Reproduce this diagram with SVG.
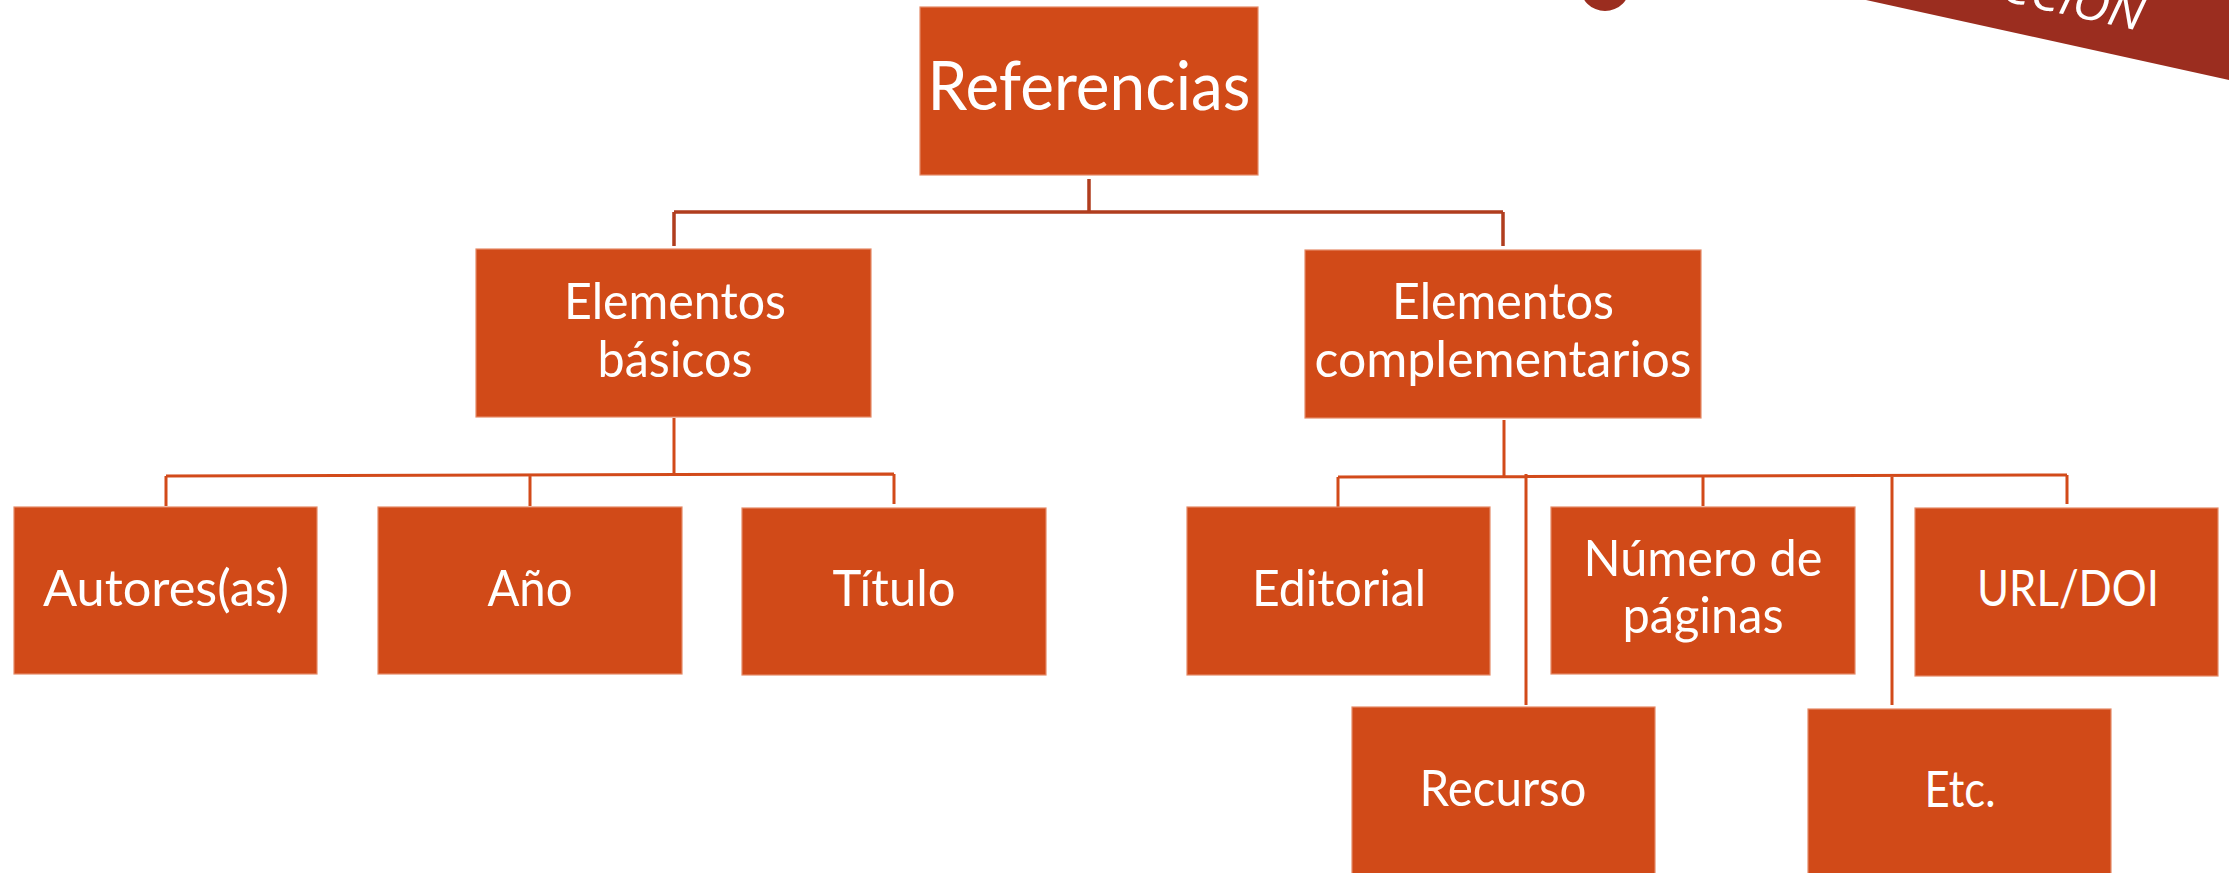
<svg xmlns="http://www.w3.org/2000/svg" width="2229" height="873" viewBox="0 0 2229 873">
<style>
.box{fill:#D14A18;stroke:#E58A68;stroke-width:1.2}
.t{fill:#FFFFFF;font-family:Lato,"Liberation Sans",sans-serif;text-anchor:middle}
.c{fill:none;stroke:#D24A1A;stroke-width:3}
.c0{fill:none;stroke:#B03D1E;stroke-width:3.5}
</style>
<rect width="2229" height="873" fill="#FFFFFF"/>
<g id="decoration">
<circle cx="1605" cy="-14" r="25" fill="#9B2D1F"/>
<polygon points="1866,0 2229,0 2229,80" fill="#9B2D1F"/>
<text x="2140" y="31" transform="rotate(12.4 2140 31)" fill="#FFFFFF" font-family="'Open Sans','Liberation Sans',sans-serif" font-style="italic" font-size="47" text-anchor="end" textLength="144" lengthAdjust="spacingAndGlyphs">CCIÓN</text>
</g>
<g id="connectors">
<path class="c0" d="M1089 179 V212 M674 212 H1503 M674 212 V246 M1503 212 V246"/>
<path class="c" d="M674 418 V475 M166 476 L894 474 M166 476 V506 M530 475 V506 M894 474 V504"/>
<path class="c" d="M1504 420 V476 M1338 477 L2067 475 M1338 477 V507 M1703 476 V506 M2067 475 V504 M1526 474 V705 M1892 474 V705"/>
</g>
<g id="n-referencias"><rect class="box" x="920" y="7" width="338" height="168"/><text class="t" x="1089" y="110" font-size="67" textLength="323" lengthAdjust="spacingAndGlyphs">Referencias</text></g>
<g id="n-basicos"><rect class="box" x="476" y="249" width="395" height="168"/><text class="t" x="675" y="319" font-size="51" textLength="222" lengthAdjust="spacingAndGlyphs">Elementos</text><text class="t" x="675" y="377" font-size="51" textLength="155" lengthAdjust="spacingAndGlyphs">básicos</text></g>
<g id="n-complementarios"><rect class="box" x="1305" y="250" width="396" height="168"/><text class="t" x="1503" y="319" font-size="51" textLength="222" lengthAdjust="spacingAndGlyphs">Elementos</text><text class="t" x="1503" y="377" font-size="51" textLength="377" lengthAdjust="spacingAndGlyphs">complementarios</text></g>
<g id="n-autores"><rect class="box" x="14" y="507" width="303" height="167"/><text class="t" x="166" y="606" font-size="51" textLength="246" lengthAdjust="spacingAndGlyphs">Autores(as)</text></g>
<g id="n-anio"><rect class="box" x="378" y="507" width="304" height="167"/><text class="t" x="530" y="606" font-size="51" textLength="85" lengthAdjust="spacingAndGlyphs">Año</text></g>
<g id="n-titulo"><rect class="box" x="742" y="508" width="304" height="167"/><text class="t" x="894" y="606" font-size="51" textLength="123" lengthAdjust="spacingAndGlyphs">Título</text></g>
<g id="n-editorial"><rect class="box" x="1187" y="507" width="303" height="168"/><text class="t" x="1339" y="606" font-size="51" textLength="174" lengthAdjust="spacingAndGlyphs">Editorial</text></g>
<g id="n-paginas"><rect class="box" x="1551" y="507" width="304" height="167"/><text class="t" x="1703" y="576" font-size="51" textLength="239" lengthAdjust="spacingAndGlyphs">Número de</text><text class="t" x="1703" y="633" font-size="51" textLength="161" lengthAdjust="spacingAndGlyphs">páginas</text></g>
<g id="n-url"><rect class="box" x="1915" y="508" width="303" height="168"/><text class="t" x="2068" y="606" font-size="51" textLength="182" lengthAdjust="spacingAndGlyphs">URL/DOI</text></g>
<g id="n-recurso"><rect class="box" x="1352" y="707" width="303" height="170"/><text class="t" x="1503" y="806" font-size="51" textLength="167" lengthAdjust="spacingAndGlyphs">Recurso</text></g>
<g id="n-etc"><rect class="box" x="1808" y="709" width="303" height="168"/><text class="t" x="1960" y="807" font-size="51" textLength="71" lengthAdjust="spacingAndGlyphs">Etc.</text></g>
</svg>
